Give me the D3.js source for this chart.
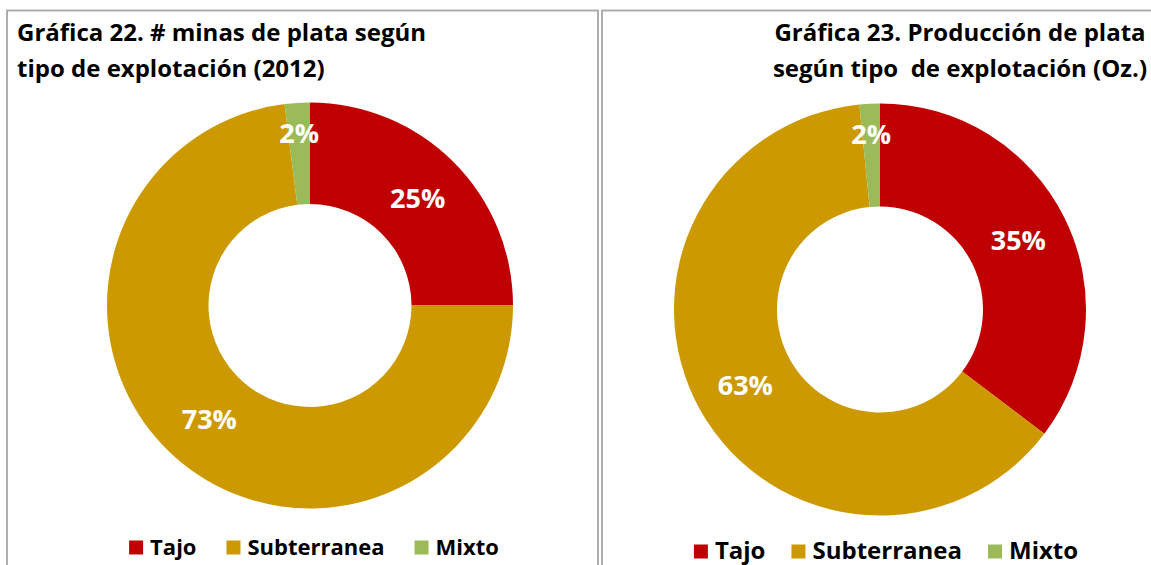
<!DOCTYPE html>
<html>
<head>
<meta charset="utf-8">
<script src="https://cdn.jsdelivr.net/npm/d3@7"></script>
<style>
  html, body { margin: 0; padding: 0; background: #fff; overflow: hidden; }
  svg { display: block; font-family: "Open Sans", "Noto Sans", sans-serif; }
</style>
</head>
<body>
<div id="chart"></div>
<script>
const categories = ["Tajo", "Subterranea", "Mixto"]
const colors = ["#C00000", "#CC9900", "#9BBB59"]

// Gráfica 22: share of silver mines by exploitation type (2012)
const minasShare = [25, 73, 2]
// Gráfica 23: share of silver production (Oz.) by exploitation type
const produccionShare = [35.3, 63.1, 1.6]

const title22 = ["Gráfica 22. # minas de plata según", "tipo de explotación (2012)"]
const title23 = ["Gráfica 23. Producción de plata", "según tipo  de explotación (Oz.)"]

const width = 1151
const height = 565

const svg = d3.select("#chart")
  .append("svg")
  .attr("width", width)
  .attr("height", height)

// panel frames (bottom / right edges run off the picture)
const panels = [
  { x: 7, y: 10.5, w: 591, h: 620 },
  { x: 602, y: 10.5, w: 600, h: 620 }
]
panels.forEach(p => {
  svg.append("rect")
    .attr("x", p.x).attr("y", p.y)
    .attr("width", p.w).attr("height", p.h)
    .attr("fill", "none")
    .attr("stroke", "#a6a6a6")
    .attr("stroke-width", 1.8)
})

const charts = [
  {
    values: minasShare, title: title22,
    titleX: 17, titleAnchor: "start", titleY: 41,
    cx: 310, cy: 305.5, r: 203,
    legendCx: 314, legendY: 555, legendSize: 22, legendGap: 30
  },
  {
    values: produccionShare, title: title23,
    titleX: 960, titleAnchor: "middle", titleY: 41,
    cx: 880, cy: 309.5, r: 206,
    legendCx: 886, legendY: 559, legendSize: 24, legendGap: 26
  }
]

const pct = d3.format(".0%")

charts.forEach(c => {
  const g = svg.append("g")

  // Title
  const t = g.append("text")
    .attr("font-size", 24)
    .attr("font-weight", 700)
    .attr("fill", "#000")
    .attr("text-anchor", c.titleAnchor)
  c.title.forEach((line, i) => {
    t.append("tspan")
      .attr("x", c.titleX)
      .attr("y", c.titleY + i * 35.5)
      .style("white-space", "pre")
      .text(line)
  })

  // Donut
  const total = d3.sum(c.values)
  const rows = categories.map((name, i) => ({ name, value: c.values[i], color: colors[i] }))
  const pie = d3.pie().sort(null).value(d => d.value)
  const arcs = pie(rows)
  const arc = d3.arc().innerRadius(c.r * 0.5).outerRadius(c.r)
  const smallArc = d3.arc().innerRadius(c.r * 0.85).outerRadius(c.r * 0.85)

  const donut = g.append("g").attr("transform", `translate(${c.cx},${c.cy})`)

  donut.selectAll("path")
    .data(arcs)
    .join("path")
    .attr("d", arc)
    .attr("fill", d => d.data.color)

  donut.selectAll("text")
    .data(arcs)
    .join("text")
    .attr("transform", d => {
      const p = (d.data.value / total < 0.05) ? smallArc.centroid(d) : arc.centroid(d)
      return `translate(${p})`
    })
    .attr("text-anchor", "middle")
    .attr("dy", "0.36em")
    .attr("font-size", 27)
    .attr("font-weight", 700)
    .attr("fill", "#fff")
    .text(d => pct(d.data.value / total))

  // Legend
  const legend = g.append("g")
  const sq = 14
  let lx = 0
  rows.forEach(row => {
    const item = legend.append("g").attr("transform", `translate(${lx},0)`)
    item.append("rect")
      .attr("x", 0).attr("y", -sq - 0.5)
      .attr("width", sq).attr("height", sq)
      .attr("fill", row.color)
    const txt = item.append("text")
      .attr("x", sq + 7)
      .attr("font-size", c.legendSize)
      .attr("font-weight", 700)
      .attr("fill", "#000")
      .text(row.name)
    const w = txt.node().getComputedTextLength()
    lx += sq + 7 + w + c.legendGap
  })
  const legendW = lx - c.legendGap
  legend.attr("transform", `translate(${c.legendCx - legendW / 2},${c.legendY})`)
})
</script>
</body>
</html>
